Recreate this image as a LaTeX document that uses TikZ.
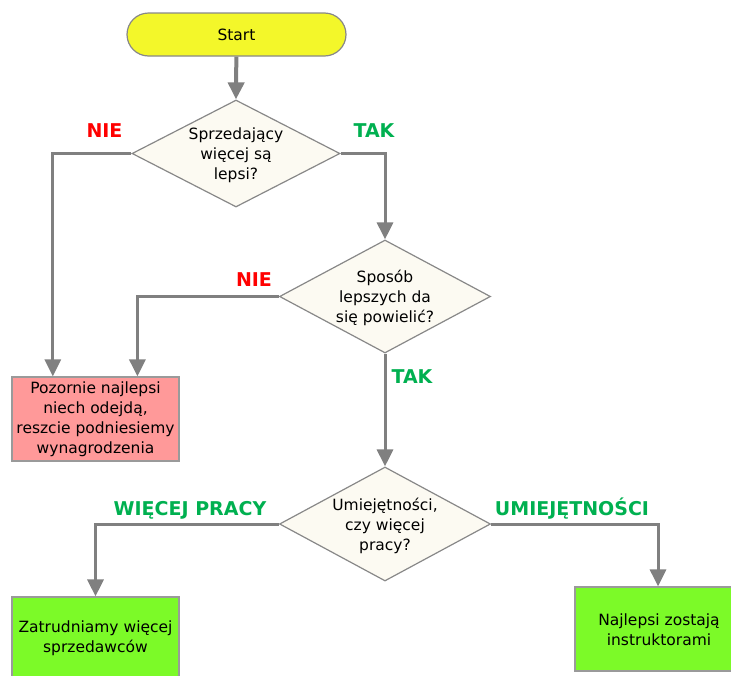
\documentclass[tikz,border=0pt]{standalone}
\usepackage{fontspec}
\setmainfont{DejaVu Sans}
\usetikzlibrary{shapes.geometric,arrows.meta,calc}

\definecolor{startfill}{RGB}{243,247,42}
\definecolor{decfill}{RGB}{252,250,242}
\definecolor{redbox}{RGB}{255,153,153}
\definecolor{greenbox}{RGB}{124,250,40}
\definecolor{edgegray}{RGB}{136,136,136}
\definecolor{conngray}{RGB}{128,128,128}
\definecolor{nored}{RGB}{255,0,0}
\definecolor{yesgreen}{RGB}{0,176,80}

\tikzset{
  txt/.style={font=\fontsize{15.5}{20}\selectfont, align=center, text=black},
  startbox/.style={rectangle, rounded corners=21.5pt, draw=edgegray, line width=1.2pt,
    fill=startfill, minimum width=219pt, minimum height=43pt, inner sep=0pt},
  decision/.style={diamond, draw=edgegray, line width=1.2pt, fill=decfill, inner sep=0pt},
  actbox/.style={rectangle, draw=edgegray!85, line width=1.2pt, inner sep=0pt},
  conn/.style={draw=conngray, line width=3pt, -{Triangle[length=17pt,width=16pt]}},
  answer/.style={font=\fontsize{19}{21}\selectfont\bfseries, anchor=base},
}

\begin{document}
\begin{tikzpicture}[x=1pt, y=-1pt]
  \useasboundingbox (0,0) rectangle (731,675);

  % terminal
  \node[startbox, txt] (start) at (236.5,34.5) {Start};

  % decisions
  \node[decision, minimum width=208pt, minimum height=107pt] (d1) at (236,153.5) {};
  \node[txt] (d1t) at (236,155) {Sprzedający\\więcej są\\lepsi?};

  \node[decision, minimum width=211pt, minimum height=113pt] (d2) at (385,296.5) {};
  \node[txt] (d2t) at (385,298) {Sposób\\lepszych da\\się powielić?};

  \node[decision, minimum width=211pt, minimum height=114pt] (d3) at (385,524) {};
  \node[txt] (d3t) at (385,526) {Umiejętności,\\czy więcej\\pracy?};

  % outcomes
  \node[actbox, fill=redbox, minimum width=167pt, minimum height=84pt] (r) at (95.5,419) {};
  \node[txt] (rt) at (95.5,419) {Pozornie najlepsi\\niech odejdą,\\reszcie podniesiemy\\wynagrodzenia};

  \node[actbox, fill=greenbox, minimum width=167pt, minimum height=92pt] (g1) at (95.5,643) {};
  \node[txt] (g1t) at (95.5,638) {Zatrudniamy więcej\\sprzedawców};

  \node[actbox, fill=greenbox, minimum width=166pt, minimum height=84pt] (g2) at (658,629) {};
  \node[txt] (g2t) at (659,630) {Najlepsi zostają\\instruktorami};

  % connectors
  \draw[conn, line width=4pt] (start) -- (d1.north);
  \draw[conn] (d1.west) -| ($(r.north west)!0.246!(r.north east)$);
  \draw[conn] (d1.east) -| (d2.north);
  \draw[conn] (d2.west) -| ($(r.north west)!0.749!(r.north east)$);
  \draw[conn] (d2.south) -- (d3.north);
  \draw[conn] (d3.west) -| (g1.north);
  \draw[conn] (d3.east) -| (g2.north);

  % answer labels
  \node[answer, text=nored] (l1) at (104.5,137) {NIE};
  \node[answer, text=yesgreen] (l2) at (374,137) {TAK};
  \node[answer, text=nored] (l3) at (254,286) {NIE};
  \node[answer, text=yesgreen] (l4) at (412,383) {TAK};
  \node[answer, text=yesgreen] (l5) at (190,515) {WIĘCEJ PRACY};
  \node[answer, text=yesgreen] (l6) at (572,515) {UMIEJĘTNOŚCI};
\end{tikzpicture}
\end{document}
